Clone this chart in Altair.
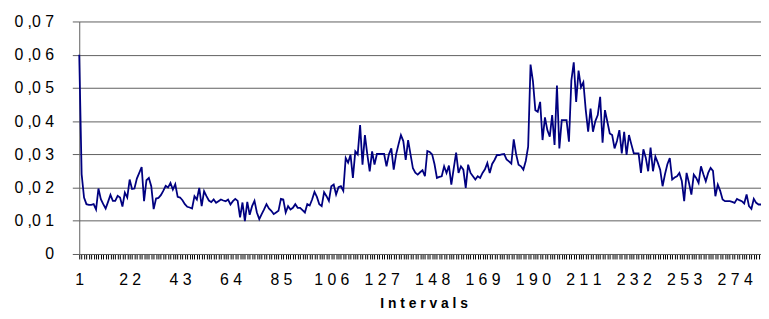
import altair as alt
import pandas as pd

# Share per interval (intervals 1..285 visible)
values = [
    0.060, 0.024, 0.017, 0.015, 0.0148, 0.0148, 0.015, 0.0134, 0.0197, 0.0165,
    0.015, 0.0137, 0.0157, 0.0178, 0.016, 0.016, 0.0175, 0.017, 0.0143, 0.0185,
    0.017, 0.0224, 0.0196, 0.0197, 0.0227, 0.0244, 0.0262, 0.0159, 0.0222, 0.0229,
    0.0204, 0.0135, 0.0167, 0.0169, 0.0177, 0.019, 0.0205, 0.020, 0.0214, 0.0194,
    0.021, 0.0172, 0.017, 0.0162, 0.015, 0.0142, 0.014, 0.0137, 0.0174, 0.0164,
    0.0199, 0.0144, 0.0189, 0.0174, 0.0161, 0.0156, 0.0164, 0.0154, 0.0159, 0.0164,
    0.0161, 0.0159, 0.0164, 0.0149, 0.0159, 0.0166, 0.016, 0.011, 0.0155, 0.0099,
    0.0157, 0.0118, 0.0144, 0.016, 0.0125, 0.0105, 0.012, 0.0134, 0.015, 0.0137,
    0.013, 0.012, 0.0125, 0.013, 0.0166, 0.0164, 0.0125, 0.0144, 0.0134, 0.0139,
    0.015, 0.0139, 0.0139, 0.0132, 0.0125, 0.015, 0.0146, 0.0164, 0.0187, 0.0172,
    0.015, 0.0144, 0.0186, 0.0174, 0.016, 0.0204, 0.0209, 0.0179, 0.0201, 0.0204,
    0.019, 0.0289, 0.0275, 0.0299, 0.0229, 0.0309, 0.0300, 0.0388, 0.0269, 0.0358,
    0.0300, 0.0249, 0.0309, 0.0269, 0.0301, 0.0301, 0.0301, 0.0301, 0.0264, 0.0300,
    0.0318, 0.0254, 0.0300, 0.0330, 0.0358, 0.0340, 0.0283, 0.0343, 0.0300, 0.0258,
    0.0245, 0.0239, 0.0246, 0.0252, 0.0234, 0.031, 0.0307, 0.030, 0.027, 0.0229,
    0.0232, 0.0234, 0.0264, 0.0244, 0.0266, 0.0209, 0.0258, 0.0305, 0.0244, 0.0264,
    0.0254, 0.0199, 0.0269, 0.0244, 0.0234, 0.0224, 0.0234, 0.0229, 0.0244, 0.0255,
    0.0274, 0.0244, 0.0271, 0.0283, 0.0298, 0.0298, 0.0300, 0.0301, 0.0285, 0.0279,
    0.0272, 0.0345, 0.0300, 0.0269, 0.0264, 0.0254, 0.028, 0.0323, 0.0570, 0.0520,
    0.0433, 0.0428, 0.0458, 0.0343, 0.0411, 0.0373, 0.0353, 0.0418, 0.0328, 0.0507,
    0.0318, 0.0403, 0.0403, 0.0403, 0.0338, 0.0522, 0.0577, 0.0458, 0.0552, 0.0502,
    0.0517, 0.0433, 0.0368, 0.0438, 0.0368, 0.0400, 0.0418, 0.0473, 0.0335, 0.0433,
    0.0398, 0.0363, 0.0358, 0.0318, 0.034, 0.0373, 0.0303, 0.0368, 0.0298, 0.0358,
    0.033, 0.0303, 0.0303, 0.0303, 0.0244, 0.0315, 0.029, 0.0249, 0.032, 0.0249,
    0.0293, 0.0275, 0.0254, 0.0204, 0.024, 0.027, 0.0289, 0.0224, 0.023, 0.0234,
    0.0244, 0.022, 0.0159, 0.0244, 0.0214, 0.0179, 0.0239, 0.0229, 0.0214, 0.0264,
    0.024, 0.0219, 0.0244, 0.0259, 0.025, 0.0174, 0.0209, 0.019, 0.0164, 0.0159,
    0.0159, 0.0159, 0.0157, 0.0154, 0.0166, 0.0162, 0.0159, 0.0152, 0.0179, 0.0144,
    0.0136, 0.0166, 0.0154, 0.0149, 0.0149,
]
intervals = list(range(1, len(values) + 1))

x_tick_values = [1, 22, 43, 64, 85, 106, 127, 148, 169, 190, 211, 232, 253, 274]
y_tick_values = [0, 0.01, 0.02, 0.03, 0.04, 0.05, 0.06, 0.07]
y_tick_texts = ["0", "0 ,0 1", "0 ,0 2", "0 ,0 3", "0 ,0 4", "0 ,0 5", "0 ,0 6", "0 ,0 7"]
x_title = "I n t e r v a l s"

df = pd.DataFrame({"interval": intervals, "value": values})

x_expr = "".join(
    f"datum.value == {v} ? '{' '.join(str(v))}' : " for v in x_tick_values
) + "''"
y_expr = "".join(
    f"round(datum.value * 100) == {i} ? '{t}' : " for i, t in enumerate(y_tick_texts)
) + "''"

FONT = "Liberation Sans"
GRID = "#5f5f5f"

chart = alt.Chart(df).mark_line(color="#000080", strokeWidth=1.8).encode(
    x=alt.X(
        "interval:Q",
        scale=alt.Scale(domain=[1, len(values)], nice=False, zero=False),
        axis=alt.Axis(
            values=intervals,
            labelExpr=x_expr,
            labelOverlap=False,
            labelFlush=False,
            labelBound=False,
            grid=False,
            domainColor=GRID,
            domainWidth=1,
            ticks=True,
            tickColor="#000000",
            tickOpacity=1,
            tickSize=5,
            tickWidth=1,
            labelFont=FONT,
            labelFontSize=16,
            labelColor="#000000",
            labelPadding=13,
            labelBaseline="top",
            title=x_title,
            titleFont=FONT,
            titleFontSize=14,
            titleFontWeight="bold",
            titleColor="#000000",
            titleBaseline="alphabetic",
            titleX=348,
            titleY=54,
        ),
    ),
    y=alt.Y(
        "value:Q",
        scale=alt.Scale(domain=[0, 0.07], nice=False),
        axis=alt.Axis(
            values=y_tick_values,
            labelExpr=y_expr,
            grid=True,
            gridColor=GRID,
            gridWidth=1,
            domainColor=GRID,
            domainWidth=1,
            tickColor=GRID,
            tickSize=7,
            labelFont=FONT,
            labelFontSize=16,
            labelColor="#000000",
            labelPadding=19,
            labelBaseline="middle",
            title=None,
        ),
    ),
).properties(
    width=689,
    height=235,
    autosize=alt.AutoSizeParams(type="none"),
    padding={"left": 72, "top": 12, "right": 0, "bottom": 56},
).configure_view(stroke=None)

chart.save("out.html", embed_options={"renderer": "svg", "actions": False})
